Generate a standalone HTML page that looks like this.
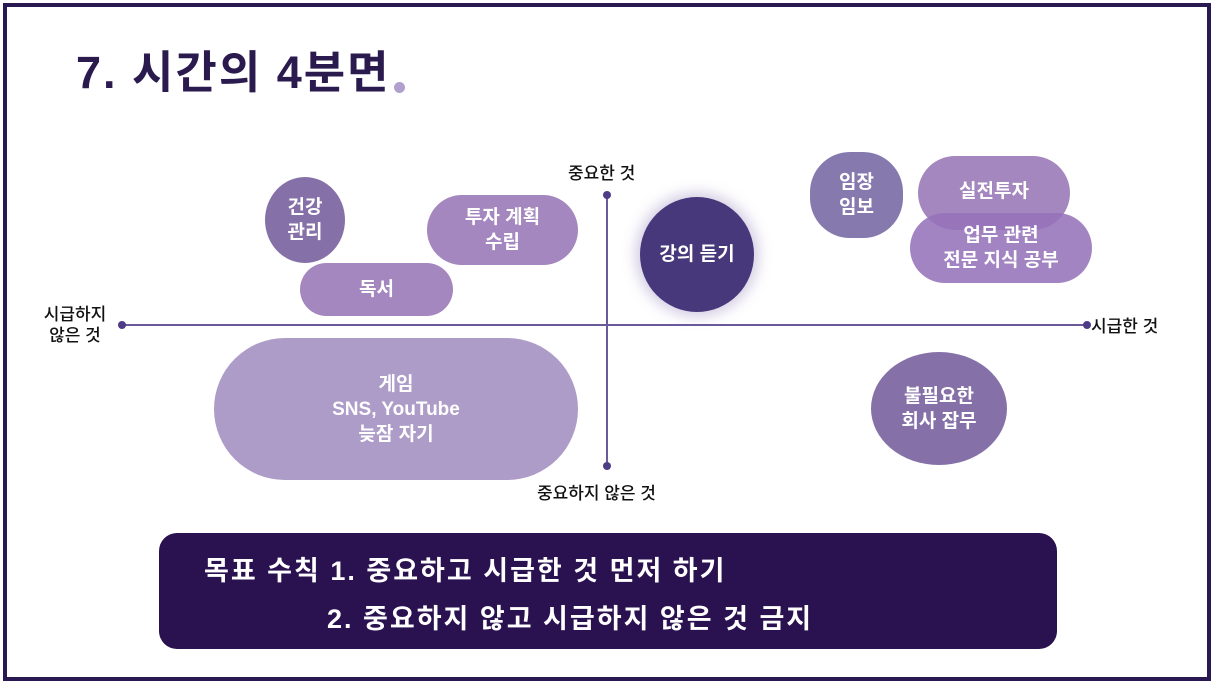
<!DOCTYPE html>
<html><head><meta charset="utf-8"><style>
*{margin:0;padding:0;box-sizing:border-box}
body{width:1216px;height:684px;background:#fff;position:relative;overflow:hidden;font-family:"Liberation Sans","Noto Sans CJK KR",sans-serif}
.frame{position:absolute;left:3px;top:3px;width:1208px;height:678px;border:4px solid #2a1850}
.s{position:absolute;display:flex;align-items:center;justify-content:center;text-align:center;color:#fff;font-weight:bold;font-size:19px;line-height:25px}
.t{position:absolute;font-size:17px;color:#111;line-height:21px;font-weight:500}
.dot{position:absolute;width:8px;height:8px;border-radius:50%;background:#4e3d86}
</style></head><body>
<div class="frame"></div>
<div style="position:absolute;left:76px;top:44px;font-size:45px;font-weight:bold;color:#2a1a4e;line-height:58px;letter-spacing:2px">7. 시간의 4분면</div>
<div style="position:absolute;left:394px;top:82px;width:11px;height:11px;border-radius:50%;background:#b0a0cc"></div>

<div style="position:absolute;left:122px;top:324px;width:965px;height:2px;background:#6a5a9a"></div>
<div style="position:absolute;left:606px;top:195px;width:2px;height:271px;background:#6a5a9a"></div>
<div class="dot" style="left:118px;top:321px"></div>
<div class="dot" style="left:1083px;top:321px"></div>
<div class="dot" style="left:603px;top:191px"></div>
<div class="dot" style="left:603px;top:462px"></div>
<div class="t" style="left:568px;top:163px">중요한 것</div>
<div class="t" style="left:537px;top:483px">중요하지 않은 것</div>
<div class="t" style="left:1091px;top:316px">시급한 것</div>
<div class="t" style="left:38px;top:304px;text-align:center;width:74px">시급하지<br>않은 것</div>

<div class="s" style="left:265px;top:177px;width:80px;height:86px;border-radius:50%;background:#8571a8">건강<br>관리</div>
<div class="s" style="left:427px;top:195px;width:151px;height:70px;border-radius:35px;background:#a487be">투자 계획<br>수립</div>
<div class="s" style="left:300px;top:263px;width:153px;height:53px;border-radius:27px;background:#a487be">독서</div>
<div class="s" style="left:640px;top:197px;width:114px;height:115px;border-radius:50%;background:#46387a;box-shadow:0 0 14px 4px rgba(120,100,170,.35)">강의 듣기</div>
<div class="s" style="left:810px;top:152px;width:93px;height:86px;border-radius:40px;background:#8579ae">임장<br>임보</div>
<div class="s" style="left:918px;top:156px;width:152px;height:74px;border-radius:37px;background:#a487be;padding-bottom:4px">실전투자</div>
<div class="s" style="left:910px;top:213px;width:182px;height:70px;border-radius:35px;background:rgba(150,115,185,.88)">업무 관련<br>전문 지식 공부</div>
<div class="s" style="left:871px;top:352px;width:136px;height:113px;border-radius:50%;background:#8571a8">불필요한<br>회사 잡무</div>
<div class="s" style="left:214px;top:338px;width:364px;height:142px;border-radius:71px;background:#ad9cc8">게임<br>SNS, YouTube<br>늦잠 자기</div>

<div style="position:absolute;left:159px;top:533px;width:898px;height:116px;border-radius:18px;background:#2a1150"></div>
<div style="position:absolute;left:204px;top:554px;color:#fff;font-size:27px;font-weight:bold;line-height:34px;letter-spacing:2px;white-space:nowrap">목표 수칙 1. 중요하고 시급한 것 먼저 하기</div>
<div style="position:absolute;left:327px;top:602px;color:#fff;font-size:27px;font-weight:bold;line-height:34px;letter-spacing:2px;white-space:nowrap">2. 중요하지 않고 시급하지 않은 것 금지</div>
</body></html>
